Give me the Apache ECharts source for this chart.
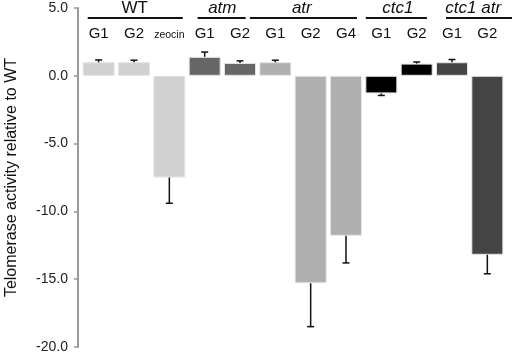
<!DOCTYPE html>
<html>
<head>
<meta charset="utf-8">
<script src="https://cdn.jsdelivr.net/npm/echarts@6/dist/echarts.min.js"></script>
<style>
html, body { margin: 0; padding: 0; background: #fff; }
#chart { width: 512px; height: 352px; }
</style>
</head>
<body>
<div id="chart"></div>
<script>
// data
const categories = ['WT G1', 'WT G2', 'WT zeocin', 'atm G1', 'atm G2', 'atr G1', 'atr G2', 'atr G4', 'ctc1 G1', 'ctc1 G2', 'ctc1 atr G1', 'ctc1 atr G2']
const subLabels = ['G1', 'G2', 'zeocin', 'G1', 'G2', 'G1', 'G2', 'G4', 'G1', 'G2', 'G1', 'G2']
const values = [1.0, 1.0, -7.5, 1.4, 0.95, 1.0, -15.3, -11.8, -1.3, 0.9, 1.0, -13.2]
const errors = [0.17, 0.15, 1.9, 0.35, 0.15, 0.15, 3.2, 2.0, 0.15, 0.12, 0.2, 1.4]
const groupNames = ['WT', 'atm', 'atr', 'ctc1', 'ctc1 atr']
const groupOf = [0, 0, 0, 1, 1, 2, 2, 2, 3, 3, 4, 4]
const yTicks = [-20, -15, -10, -5, 0, 5]

// styling / layout
const groupColors = ['#d0d0d0', '#666666', '#b0b0b0', '#000000', '#444444']
const groupItalic = [false, true, true, true, true]
// header line spans and label centres, in category units
const groupSpans = [[-0.31, 2.38], [2.8, 4.16], [4.28, 7.31], [7.56, 9.29], [9.83, 11.8]]
const groupLabelAt = [1.02, 3.5, 5.75, 8.47, 10.6]
const font = "'Liberation Sans', Arial, Helvetica, sans-serif"

const chart = echarts.init(document.getElementById('chart'))

const option = {
  animation: false,
  backgroundColor: '#fff',
  grid: { left: 81, right: 7, top: 8, bottom: 5, containLabel: false, outerBoundsMode: 'none' },
  xAxis: {
    type: 'category',
    data: categories,
    position: 'top',
    axisLine: { show: false, onZero: false },
    axisTick: { show: false },
    axisLabel: {
      inside: true,
      margin: 18,
      interval: 0,
      color: '#111',
      fontSize: 15,
      fontFamily: font,
      formatter: (v, idx) => subLabels[idx] === 'zeocin' ? '{s|zeocin}' : subLabels[idx],
      rich: { s: { fontSize: 10.5, fontFamily: font, color: '#111', padding: [4, 0, 0, 0] } }
    }
  },
  yAxis: {
    type: 'value',
    min: yTicks[0],
    max: yTicks[yTicks.length - 1],
    interval: 5,
    offset: 3,
    name: 'Telomerase activity relative to WT',
    nameLocation: 'middle',
    nameGap: 58,
    nameRotate: 90,
    nameTextStyle: { color: '#111', fontSize: 16, fontFamily: font },
    splitLine: { show: false },
    axisLine: { show: true, lineStyle: { color: '#999', width: 2 } },
    axisTick: { show: true, length: 4, lineStyle: { color: '#999', width: 1.5 } },
    axisLabel: {
      margin: 10,
      color: '#222',
      fontSize: 14,
      fontFamily: font,
      formatter: v => v.toFixed(1)
    }
  },
  series: [
    {
      type: 'bar',
      barWidth: 32,
      data: values.map((v, i) => ({
        value: v,
        itemStyle: { color: groupColors[groupOf[i]], borderColor: '#e4e4e4', borderWidth: 1 }
      }))
    },
    {
      type: 'custom',
      z: 5,
      data: values.map((v, i) => [i, v, errors[i]]),
      renderItem: (params, api) => {
        const v = api.value(1)
        const e = api.value(2)
        const end = v >= 0 ? v + e : v - e
        const p0 = api.coord([api.value(0), v])
        const p1 = api.coord([api.value(0), end])
        const st = { stroke: '#111', lineWidth: 1.5 }
        return {
          type: 'group',
          children: [
            { type: 'line', shape: { x1: p0[0], y1: p0[1], x2: p1[0], y2: p1[1] }, style: st },
            { type: 'line', shape: { x1: p1[0] - 3.5, y1: p1[1], x2: p1[0] + 3.5, y2: p1[1] }, style: st }
          ]
        }
      }
    }
  ]
}

chart.setOption(option)

// group header: lines and names placed from the category axis
const c0 = chart.convertToPixel({ xAxisIndex: 0 }, 0)
const c1 = chart.convertToPixel({ xAxisIndex: 0 }, 1)
const pitch = c1 - c0
const xAt = f => c0 + f * pitch

const graphics = []
groupNames.forEach((name, g) => {
  graphics.push({
    type: 'line',
    shape: { x1: xAt(groupSpans[g][0]), y1: 18, x2: xAt(groupSpans[g][1]), y2: 18 },
    style: { stroke: '#111', lineWidth: 2 }
  })
  graphics.push({
    type: 'text',
    x: xAt(groupLabelAt[g]),
    y: 8,
    style: {
      text: name,
      fill: '#111',
      font: (groupItalic[g] ? 'italic ' : '') + '17px ' + font,
      textAlign: 'center',
      textVerticalAlign: 'middle'
    }
  })
})
chart.setOption({ graphic: graphics })
</script>
</body>
</html>
